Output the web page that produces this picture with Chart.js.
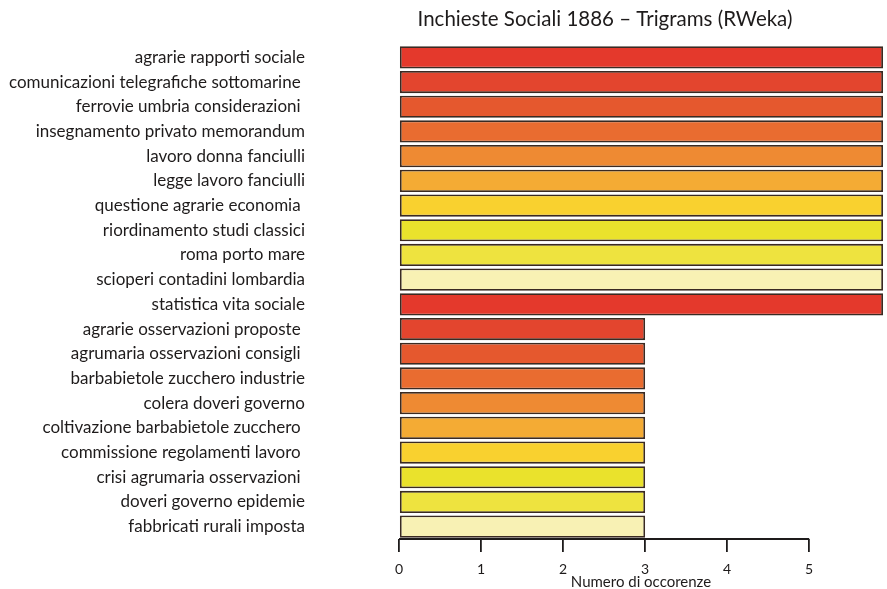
<!DOCTYPE html>
<html>
<head>
<meta charset="utf-8">
<script src="https://cdn.jsdelivr.net/npm/chart.js@4.4.1/dist/chart.umd.min.js"></script>
<style>
  html, body { margin: 0; padding: 0; background: #fff; }
  #wrap { width: 887px; height: 589px; }
</style>
</head>
<body>
<div id="wrap"><canvas id="trigramChart"></canvas></div>
<script>
// trigram labels (some have a trailing space, like in the original)
const trigrams = [
  'agrarie rapporti sociale',
  'comunicazioni telegrafiche sottomarine ',
  'ferrovie umbria considerazioni ',
  'insegnamento privato memorandum',
  'lavoro donna fanciulli',
  'legge lavoro fanciulli',
  'questione agrarie economia ',
  'riordinamento studi classici',
  'roma porto mare',
  'scioperi contadini lombardia',
  'statistica vita sociale',
  'agrarie osservazioni proposte ',
  'agrumaria osservazioni consigli ',
  'barbabietole zucchero industrie',
  'colera doveri governo',
  'coltivazione barbabietole zucchero ',
  'commissione regolamenti lavoro ',
  'crisi agrumaria osservazioni ',
  'doveri governo epidemie',
  'fabbricati rurali imposta'
];

const occurrences = [
  5.9, 5.9, 5.9, 5.9, 5.9, 5.9, 5.9, 5.9, 5.9, 5.9, 5.9,
  3, 3, 3, 3, 3, 3, 3, 3, 3
];

const xTicks = [0, 1, 2, 3, 4, 5];

// heat palette, recycled every 10 bars
const heatColors = [
  '#e4392c', '#e3452e', '#e5582e', '#e96c30', '#ee8a33',
  '#f4ab34', '#f9d12f', '#eae22c', '#eee33f', '#f8f1b4'
];

const fontFamily = 'Lato, "Open Sans", sans-serif';
const inkColor = '#1e1b1b';

// title is not centred over the canvas in the original, so draw it ourselves
const titlePlugin = {
  id: 'offsetTitle',
  afterDraw(chart) {
    const c = chart.ctx;
    c.save();
    c.font = '20.5px ' + fontFamily;
    c.fillStyle = inkColor;
    c.textAlign = 'center';
    c.textBaseline = 'middle';
    c.fillText('Inchieste Sociali 1886 \u2013 Trigrams (RWeka)', 605, 19);
    c.restore();
  }
};

// R style axis line: only from first to last tick
const axisLinePlugin = {
  id: 'axisLine',
  afterDraw(chart) {
    const x = chart.scales.x;
    const c = chart.ctx;
    c.save();
    c.strokeStyle = inkColor;
    c.lineWidth = 1.8;
    c.beginPath();
    c.moveTo(x.getPixelForValue(xTicks[0]), x.top);
    c.lineTo(x.getPixelForValue(xTicks[xTicks.length - 1]), x.top);
    c.stroke();
    c.restore();
  }
};

const ctx = document.getElementById('trigramChart').getContext('2d');
const trigramChart = new Chart(ctx, {
  type: 'bar',
  data: {
    labels: trigrams,
    datasets: [{
      data: occurrences,
      backgroundColor: trigrams.map((_, i) => heatColors[i % heatColors.length]),
      borderColor: '#3a2a22',
      borderWidth: 1.8,
      borderSkipped: false,
      barPercentage: 0.9,
      categoryPercentage: 1
    }]
  },
  options: {
    indexAxis: 'y',
    responsive: true,
    maintainAspectRatio: false,
    animation: false,
    layout: { padding: { top: 45, right: 4, bottom: 0, left: 0 } },
    plugins: {
      legend: { display: false },
      tooltip: { enabled: false },
      title: { display: false }
    },
    scales: {
      x: {
        min: 0,
        max: 5.9,
        afterBuildTicks: scale => { scale.ticks = xTicks.map(v => ({ value: v })); },
        afterFit: scale => { scale.height = 50; },
        border: { display: false },
        grid: {
          drawOnChartArea: false,
          drawTicks: true,
          tickLength: 13,
          color: inkColor,
          lineWidth: 1.8
        },
        ticks: {
          color: inkColor,
          padding: 9,
          font: { family: fontFamily, size: 14 }
        },
        title: {
          display: true,
          text: 'Numero di occorenze',
          color: inkColor,
          padding: { top: 0, bottom: -2 },
          font: { family: fontFamily, size: 15 }
        }
      },
      y: {
        afterFit: scale => { scale.width = 399; },
        border: { display: false },
        // invisible tick marks push the labels away from the bars
        grid: {
          drawOnChartArea: false,
          drawTicks: true,
          tickLength: 90,
          color: 'rgba(0,0,0,0)'
        },
        ticks: {
          color: inkColor,
          padding: 4,
          autoSkip: false,
          font: { family: fontFamily, size: 17 }
        }
      }
    }
  },
  plugins: [titlePlugin, axisLinePlugin]
});
</script>
</body>
</html>
